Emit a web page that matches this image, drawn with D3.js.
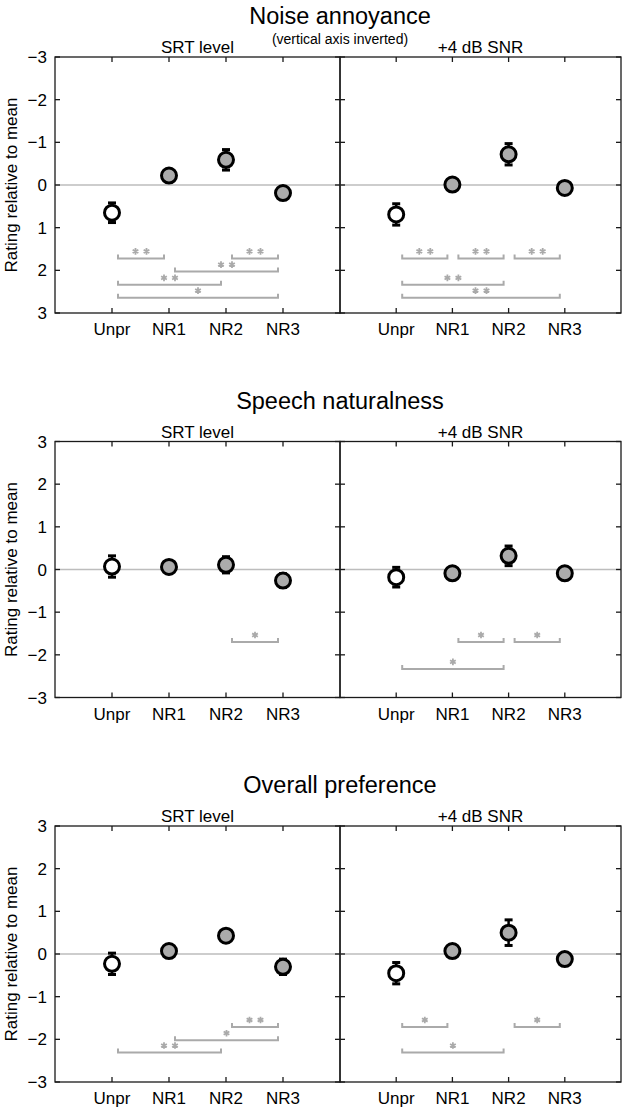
<!DOCTYPE html>
<html>
<head>
<meta charset="utf-8">
<script src="https://cdn.jsdelivr.net/npm/d3@7"></script>
<style>
  body { margin: 0; background: #fff; }
  svg { display: block; font-family: "Liberation Sans", Arial, Helvetica, sans-serif; }
</style>
</head>
<body>
<svg width="625" height="1109"></svg>
<script>
const categories = ['Unpr', 'NR1', 'NR2', 'NR3']
const yTicks = [-3, -2, -1, 0, 1, 2, 3]
const conditions = ['SRT level', '+4 dB SNR']
const titles = ['Noise annoyance', 'Speech naturalness', 'Overall preference']

// mean rating per category, and error bar half-length
const annoyanceSRT = [0.65, -0.22, -0.59, 0.19]
const annoyanceSRTErr = [0.23, 0.12, 0.24, 0.12]
const annoyanceSNR = [0.69, -0.01, -0.72, 0.07]
const annoyanceSNRErr = [0.25, 0.12, 0.25, 0.12]
const naturalSRT = [0.07, 0.06, 0.11, -0.26]
const naturalSRTErr = [0.25, 0.14, 0.19, 0.16]
const naturalSNR = [-0.18, -0.09, 0.32, -0.09]
const naturalSNRErr = [0.23, 0.12, 0.23, 0.12]
const preferenceSRT = [-0.23, 0.07, 0.43, -0.30]
const preferenceSRTErr = [0.25, 0.14, 0.14, 0.18]
const preferenceSNR = [-0.45, 0.07, 0.50, -0.12]
const preferenceSNRErr = [0.25, 0.14, 0.30, 0.12]

// significance brackets: [from, to, level, stars]
const annoyanceSRTSig = [[0, 1, 1.72, 2], [2, 3, 1.72, 2], [1, 3, 2.03, 2], [0, 2, 2.34, 2], [0, 3, 2.64, 1]]
const annoyanceSNRSig = [[0, 1, 1.72, 2], [1, 2, 1.72, 2], [2, 3, 1.72, 2], [0, 2, 2.34, 2], [0, 3, 2.64, 2]]
const naturalSRTSig = [[2, 3, -1.70, 1]]
const naturalSNRSig = [[1, 2, -1.70, 1], [2, 3, -1.70, 1], [0, 2, -2.33, 1]]
const preferenceSRTSig = [[2, 3, -1.71, 2], [1, 3, -2.02, 1], [0, 2, -2.31, 2]]
const preferenceSNRSig = [[0, 1, -1.71, 1], [2, 3, -1.71, 1], [0, 2, -2.31, 1]]

const rows = [
  { title: titles[0], inverted: true, panels: [
    { values: annoyanceSRT, errs: annoyanceSRTErr, sig: annoyanceSRTSig },
    { values: annoyanceSNR, errs: annoyanceSNRErr, sig: annoyanceSNRSig }] },
  { title: titles[1], inverted: false, panels: [
    { values: naturalSRT, errs: naturalSRTErr, sig: naturalSRTSig },
    { values: naturalSNR, errs: naturalSNRErr, sig: naturalSNRSig }] },
  { title: titles[2], inverted: false, panels: [
    { values: preferenceSRT, errs: preferenceSRTErr, sig: preferenceSRTSig },
    { values: preferenceSNR, errs: preferenceSNRErr, sig: preferenceSNRSig }] }
]

const svg = d3.select('svg')
const rowStep = 384.5
const top0 = 57
const panelH = 256
const panelX = [[55, 340], [340, 621]]
const axisColor = '#1a1a1a'
const sigColor = '#aaaaaa'
const tickLen = 5

rows.forEach((row, r) => {
  const top = top0 + r * rowStep
  const bottom = top + panelH
  const y = d3.scaleLinear()
    .domain(row.inverted ? [-3, 3] : [3, -3])
    .range([top, bottom])

  // titles
  svg.append('text')
    .attr('x', 340).attr('y', top - 33)
    .attr('text-anchor', 'middle')
    .attr('font-size', 23.5)
    .text(row.title)
  if (row.inverted) {
    svg.append('text')
      .attr('x', 340).attr('y', top - 13)
      .attr('text-anchor', 'middle')
      .attr('font-size', 14)
      .text('(vertical axis inverted)')
  }

  svg.append('text')
    .attr('transform', 'translate(17,' + y(0) + ') rotate(-90)')
    .attr('text-anchor', 'middle')
    .attr('font-size', 17)
    .text('Rating relative to mean')

  row.panels.forEach((p, k) => {
    const x = d3.scaleLinear().domain([0, 5]).range(panelX[k])
    const g = svg.append('g')
    const x0 = panelX[k][0], x1 = panelX[k][1]

    g.append('text')
      .attr('x', x(2.5)).attr('y', top - 4)
      .attr('text-anchor', 'middle')
      .attr('font-size', 17)
      .text(conditions[k])

    // zero line
    g.append('line')
      .attr('x1', x0).attr('x2', x1)
      .attr('y1', y(0)).attr('y2', y(0))
      .attr('stroke', '#bdbdbd').attr('stroke-width', 1.3)

    // frame
    g.append('rect')
      .attr('x', x0).attr('y', top)
      .attr('width', x1 - x0).attr('height', panelH)
      .attr('fill', 'none')
      .attr('stroke', axisColor).attr('stroke-width', 1.3)

    // ticks pointing inward on all four sides
    yTicks.forEach(t => {
      g.append('line').attr('x1', x0).attr('x2', x0 + tickLen)
        .attr('y1', y(t)).attr('y2', y(t))
        .attr('stroke', axisColor).attr('stroke-width', 1.3)
      g.append('line').attr('x1', x1).attr('x2', x1 - tickLen)
        .attr('y1', y(t)).attr('y2', y(t))
        .attr('stroke', axisColor).attr('stroke-width', 1.3)
    })
    categories.forEach((c, i) => {
      const cx = x(i + 1)
      g.append('line').attr('x1', cx).attr('x2', cx)
        .attr('y1', bottom).attr('y2', bottom - tickLen)
        .attr('stroke', axisColor).attr('stroke-width', 1.3)
      g.append('line').attr('x1', cx).attr('x2', cx)
        .attr('y1', top).attr('y2', top + tickLen)
        .attr('stroke', axisColor).attr('stroke-width', 1.3)
      g.append('text')
        .attr('x', cx).attr('y', bottom + 22)
        .attr('text-anchor', 'middle')
        .attr('font-size', 17)
        .text(c)
    })

    if (k === 0) {
      yTicks.forEach(t => {
        svg.append('text')
          .attr('x', x0 - 8).attr('y', y(t))
          .attr('dy', '0.36em')
          .attr('text-anchor', 'end')
          .attr('font-size', 17)
          .text(t < 0 ? '\u2212' + Math.abs(t) : t)
      })
    }

    // significance brackets
    const star = d3.symbol().type(d3.symbolAsterisk).size(30)
    p.sig.forEach(s => {
      const xa = x(s[0] + 1) + 6
      const xb = x(s[1] + 1) - 5
      const ly = y(s[2])
      g.append('path')
        .attr('d', 'M' + xa + ',' + (ly - 4) + 'V' + ly + 'H' + xb + 'V' + (ly - 4))
        .attr('fill', 'none')
        .attr('stroke', sigColor).attr('stroke-width', 2)
      const mid = (xa + xb) / 2
      const offs = s[3] === 2 ? [-5.5, 5.5] : [0]
      offs.forEach(o => {
        g.append('path')
          .attr('d', star())
          .attr('transform', 'translate(' + (mid + o) + ',' + (ly - 7) + ')')
          .attr('fill', 'none')
          .attr('stroke', sigColor).attr('stroke-width', 1.8)
      })
    })

    // error bars and markers
    const pts = p.values.map((v, i) => ({ i: i, v: v, e: p.errs[i] }))
    pts.forEach(d => {
      const cx = x(d.i + 1)
      const ya = y(d.v - d.e), yb = y(d.v + d.e)
      g.append('line').attr('x1', cx).attr('x2', cx)
        .attr('y1', ya).attr('y2', yb)
        .attr('stroke', '#000').attr('stroke-width', 2.5)
      ;[ya, yb].forEach(yy => {
        g.append('line').attr('x1', cx - 4).attr('x2', cx + 4)
          .attr('y1', yy).attr('y2', yy)
          .attr('stroke', '#000').attr('stroke-width', 3)
      })
    })
    g.selectAll('circle.pt')
      .data(pts)
      .enter().append('circle')
        .attr('class', 'pt')
        .attr('cx', d => x(d.i + 1))
        .attr('cy', d => y(d.v))
        .attr('r', 7.5)
        .attr('fill', d => d.i === 0 ? '#fff' : '#ababab')
        .attr('stroke', '#000')
        .attr('stroke-width', 3)
  })
})
</script>
</body>
</html>
